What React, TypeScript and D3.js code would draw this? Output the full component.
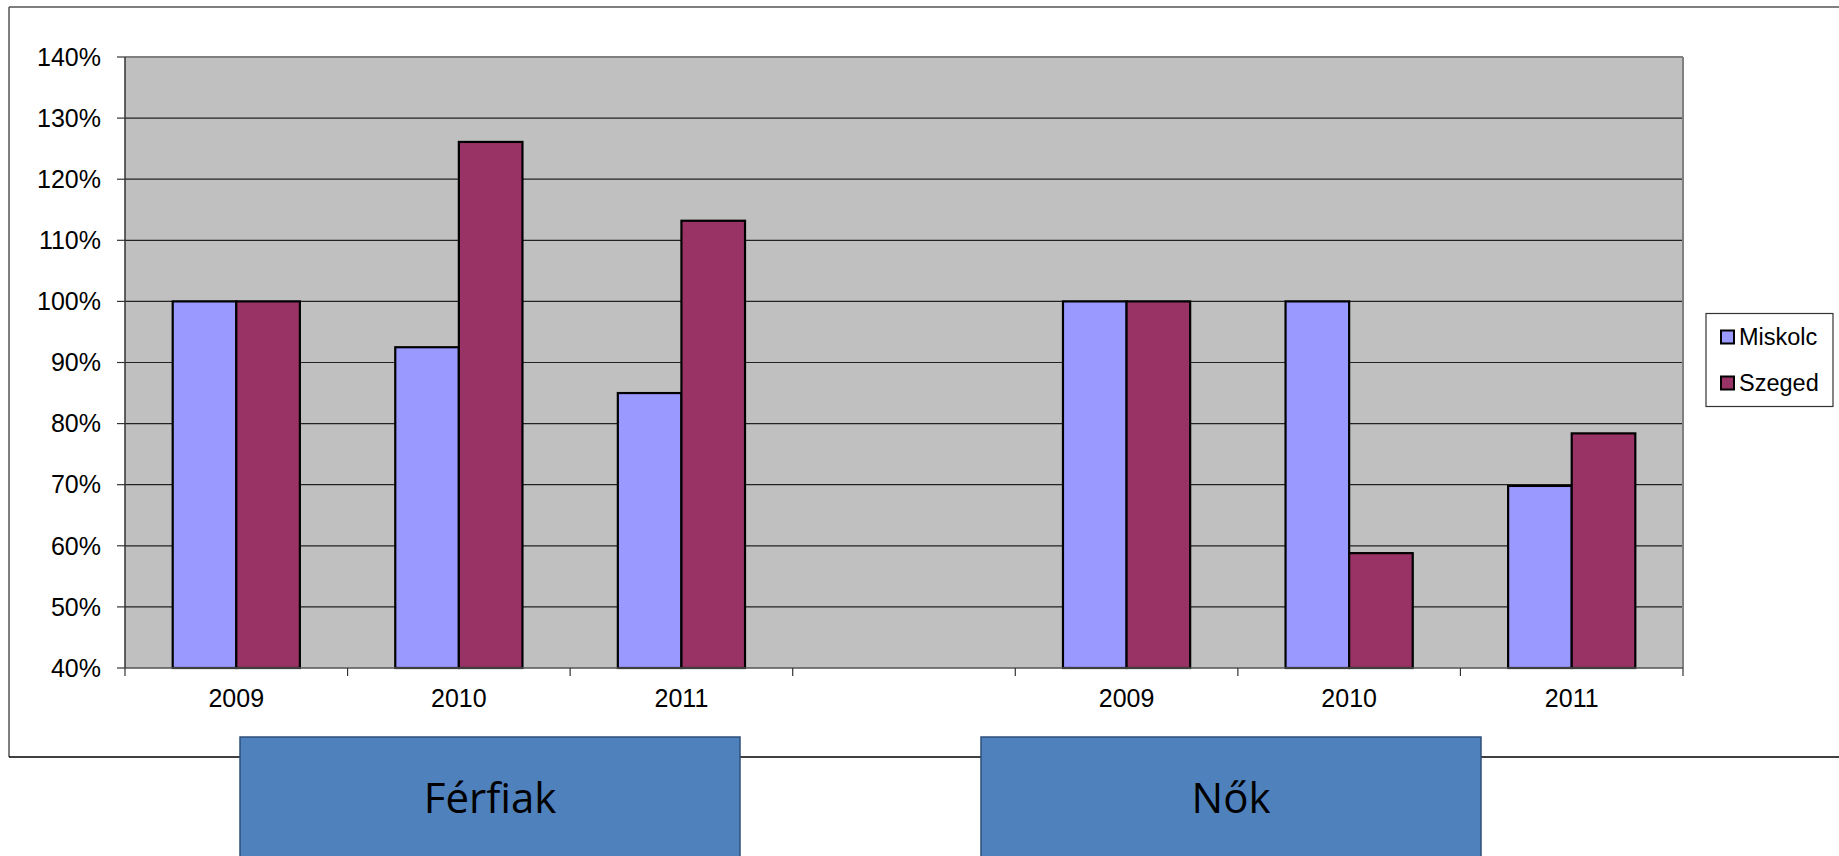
import React from "react";
import * as d3 from "d3";

const categories = ["2009", "2010", "2011", "", "2009", "2010", "2011"];
const miskolc: (number | null)[] = [100, 92.5, 85, null, 100, 100, 69.8];
const szeged: (number | null)[] = [100, 126.1, 113.2, null, 100, 58.8, 78.4];
const seriesNames = ["Miskolc", "Szeged"];
const seriesColors = ["#9999FF", "#993366"];
const yTicks = [40, 50, 60, 70, 80, 90, 100, 110, 120, 130, 140];
const groupLabels = ["Férfiak", "Nők"];

const W = 1839;
const H = 856;
const plot = { left: 125, right: 1683, top: 57, bottom: 668 };

export default function App() {
  const keys = categories.map((_, i) => String(i));
  const x = d3.scaleBand<string>().domain(keys).range([plot.left, plot.right]).paddingInner(0).paddingOuter(0);
  const y = d3.scaleLinear().domain([40, 140]).range([plot.bottom, plot.top]);
  const bw = x.bandwidth() / 3.5;
  const inner = d3.scaleBand<string>().domain(seriesNames).range([0, 2 * bw]);
  const series = [miskolc, szeged];
  const font = "'Liberation Sans', Arial, sans-serif";
  const boxes = [
    { x0: 240, x1: 740 },
    { x0: 981, x1: 1481 },
  ];
  const boundaries = keys.map((k) => x(k)!).concat([plot.right]);

  return (
    <svg width={W} height={H} style={{ position: "absolute", left: 0, top: 0, display: "block" }} xmlns="http://www.w3.org/2000/svg">
      <rect x={0} y={0} width={W} height={H} fill="#fff" />
      {/* chart area border */}
      <line x1={9} y1={7} x2={W} y2={7} stroke="#7f7f7f" strokeWidth={2} />
      <line x1={9} y1={7} x2={9} y2={757} stroke="#555" strokeWidth={1.5} />
      <line x1={9} y1={757} x2={W} y2={757} stroke="#000" strokeWidth={1.5} />

      {/* plot area */}
      <rect x={plot.left} y={plot.top} width={plot.right - plot.left} height={plot.bottom - plot.top} fill="#C0C0C0" />
      {yTicks.slice(1, -1).map((t) => (
        <line key={t} x1={plot.left} x2={plot.right} y1={y(t)} y2={y(t)} stroke="#222" strokeWidth={1.2} />
      ))}
      <line x1={plot.left} x2={plot.right} y1={plot.top} y2={plot.top} stroke="#808080" strokeWidth={2} />
      <line x1={plot.right} x2={plot.right} y1={plot.top} y2={plot.bottom} stroke="#808080" strokeWidth={2} />

      {/* bars */}
      {series.map((vals, si) =>
        vals.map((v, ci) =>
          v == null ? null : (
            <rect
              key={`${si}-${ci}`}
              x={x(keys[ci])! + 0.75 * bw + inner(seriesNames[si])!}
              y={y(v)}
              width={bw}
              height={y(40) - y(v)}
              fill={seriesColors[si]}
              stroke="#000"
              strokeWidth={2.2}
            />
          )
        )
      )}

      {/* axes */}
      <line x1={plot.left} x2={plot.left} y1={plot.top} y2={plot.bottom} stroke="#333" strokeWidth={1.5} />
      <line x1={plot.left} x2={plot.right} y1={plot.bottom} y2={plot.bottom} stroke="#555" strokeWidth={1.5} />
      {yTicks.map((t) => (
        <g key={t}>
          <line x1={plot.left - 8} x2={plot.left} y1={y(t)} y2={y(t)} stroke="#333" strokeWidth={1.2} />
          <text x={101} y={y(t)} dy="0.35em" textAnchor="end" fontFamily={font} fontSize={25} fill="#000">
            {t}%
          </text>
        </g>
      ))}
      {boundaries.map((bx, i) => (
        <line key={i} x1={bx} x2={bx} y1={plot.bottom} y2={plot.bottom + 8} stroke="#333" strokeWidth={1.2} />
      ))}
      {categories.map((c, i) => (
        <text key={i} x={x(keys[i])! + x.bandwidth() / 2} y={698} dy="0.35em" textAnchor="middle" fontFamily={font} fontSize={25} fill="#000">
          {c}
        </text>
      ))}

      {/* legend */}
      <rect x={1706} y={313.5} width={127} height={93} fill="#fff" stroke="#333" strokeWidth={1.2} />
      {seriesNames.map((s, i) => (
        <g key={s}>
          <rect x={1721} y={330.5 + i * 46} width={13} height={13} fill={seriesColors[i]} stroke="#000" strokeWidth={2} />
          <text x={1739} y={337 + i * 46} dy="0.35em" fontFamily={font} fontSize={23.5} fill="#000">
            {s}
          </text>
        </g>
      ))}

      {/* group label boxes */}
      {groupLabels.map((g, i) => (
        <g key={g}>
          <rect x={boxes[i].x0} y={737} width={boxes[i].x1 - boxes[i].x0} height={140} fill="#4F81BD" stroke="#2F4F7A" strokeWidth={1.5} />
          <text x={(boxes[i].x0 + boxes[i].x1) / 2} y={813} textAnchor="middle" fontFamily="'Open Sans', 'Noto Sans', sans-serif" fontSize={42} fill="#000">
            {g}
          </text>
        </g>
      ))}
    </svg>
  );
}
